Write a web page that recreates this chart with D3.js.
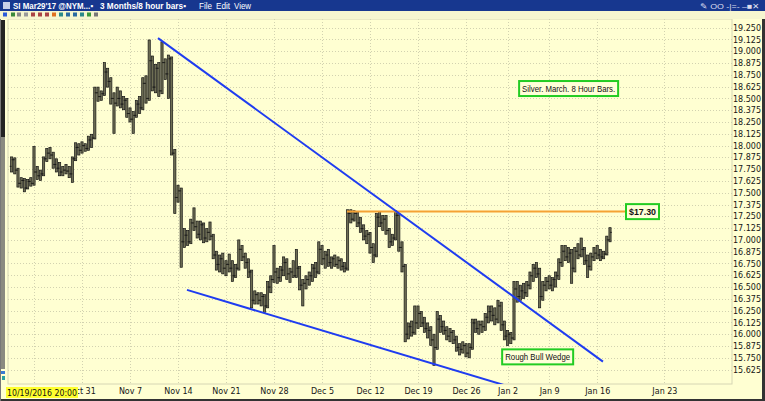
<!DOCTYPE html>
<html><head><meta charset="utf-8">
<script src="https://cdn.jsdelivr.net/npm/d3@7"></script>
<style>body{margin:0;background:#ffffd2;overflow:hidden} svg{display:block}</style>
</head><body><svg id="c" width="765" height="401"></svg>
<script>
// ---------- DATA ----------
const titleText = "SI Mar29'17 @NYM...\u25AA";
const periodText = "3 Months/8 hour bars\u25AA";
const menuItems = ["File", "Edit", "View"];
const cursorDate = "10/19/2016 20:00";

// week gridlines / labels (bar index where each week starts)
const weekLabels = ["", "Oct 31", "Nov 7", "Nov 14", "Nov 21", "Nov 28", "Dec 5", "Dec 12", "Dec 19", "Dec 26", "Jan 2", "Jan 9", "Jan 16", "Jan 23"];
const weekIndex  = [7, 22, 37, 52, 67, 82, 97, 112, 127, 142, 155, 168, 183, 204];

const priceTicks = [15.625, 15.75, 15.875, 16.0, 16.125, 16.25, 16.375, 16.5, 16.625, 16.75, 16.875, 17.0,
  17.125, 17.25, 17.375, 17.5, 17.625, 17.75, 17.875, 18.0, 18.125, 18.25, 18.375, 18.5, 18.625, 18.75,
  18.875, 19.0, 19.125, 19.25];

// 8-hour bars: [open, high, low, close]
const bars = [
[17.78,17.88,17.72,17.85],[17.85,17.87,17.70,17.74],[17.74,17.76,17.56,17.60],[17.60,17.66,17.55,17.63],
[17.63,17.65,17.51,17.55],[17.55,17.64,17.54,17.62],[17.62,17.66,17.57,17.60],[17.60,17.99,17.58,17.72],
[17.72,17.78,17.64,17.68],[17.68,17.74,17.63,17.70],[17.70,17.88,17.68,17.86],[17.86,17.97,17.83,17.92],
[17.92,17.98,17.86,17.90],[17.90,17.93,17.76,17.80],[17.80,17.86,17.72,17.76],[17.76,17.82,17.68,17.72],
[17.72,17.78,17.68,17.74],[17.74,17.80,17.70,17.73],[17.73,17.78,17.66,17.70],[17.70,17.88,17.61,17.86],
[17.86,18.03,17.84,17.98],[17.98,18.02,17.90,17.95],[17.95,18.04,17.92,18.00],[18.00,18.02,17.94,17.97],
[17.97,18.10,17.95,18.06],[18.06,18.12,17.98,18.08],[18.08,18.62,18.07,18.56],[18.56,18.62,18.47,18.52],
[18.52,18.58,18.48,18.55],[18.55,18.88,18.53,18.78],[18.78,18.82,18.62,18.68],[18.68,18.72,18.44,18.50],
[18.50,18.56,18.13,18.45],[18.45,18.62,18.42,18.50],[18.50,18.58,18.40,18.44],[18.44,18.52,18.38,18.48],
[18.48,18.50,18.30,18.34],[18.34,18.40,18.25,18.28],[18.28,18.36,18.13,18.32],[18.32,18.48,18.30,18.44],
[18.44,18.52,18.34,18.40],[18.40,18.72,18.38,18.66],[18.66,18.74,18.45,18.50],[18.50,19.12,18.48,18.90],
[18.90,18.95,18.58,18.62],[18.62,18.86,18.56,18.82],[18.82,18.88,18.52,18.58],[18.58,19.10,18.55,18.88],
[18.88,18.92,18.70,18.76],[18.76,18.96,18.50,18.92],[18.92,18.94,17.90,17.92],[17.92,17.96,17.28,17.45],
[17.45,17.58,17.40,17.52],[17.52,17.55,16.71,16.98],[16.98,17.12,16.92,17.05],[17.05,17.10,16.94,16.98],
[16.98,17.22,16.96,17.18],[17.18,17.34,17.10,17.14],[17.14,17.20,17.02,17.06],[17.06,17.20,17.00,17.16],
[17.16,17.18,16.97,17.02],[17.02,17.12,16.98,17.08],[17.08,17.19,17.00,17.04],[17.04,17.06,16.80,16.84],
[16.84,16.88,16.68,16.74],[16.74,16.84,16.66,16.80],[16.80,16.86,16.64,16.70],[16.70,16.78,16.62,16.74],
[16.74,16.85,16.66,16.70],[16.70,16.78,16.56,16.62],[16.62,16.74,16.60,16.70],[16.70,17.00,16.68,16.90],
[16.90,16.94,16.78,16.82],[16.82,16.86,16.70,16.76],[16.76,16.80,16.60,16.66],[16.66,16.68,16.28,16.36],
[16.36,16.46,16.32,16.42],[16.42,16.44,16.32,16.36],[16.36,16.44,16.30,16.40],[16.40,16.42,16.23,16.30],
[16.30,16.56,16.28,16.50],[16.50,16.62,16.44,16.58],[16.58,16.94,16.55,16.66],[16.66,16.70,16.54,16.60],
[16.60,16.72,16.56,16.68],[16.68,16.82,16.62,16.76],[16.76,16.80,16.58,16.64],[16.64,16.70,16.55,16.66],
[16.66,16.78,16.60,16.62],[16.62,16.90,16.60,16.70],[16.70,16.72,16.47,16.52],[16.52,16.58,16.30,16.54],
[16.54,16.62,16.48,16.58],[16.58,16.66,16.52,16.62],[16.62,16.74,16.56,16.70],[16.70,16.76,16.60,16.66],
[16.66,16.98,16.64,16.90],[16.90,16.94,16.74,16.80],[16.80,16.88,16.70,16.84],[16.84,16.90,16.72,16.76],
[16.76,16.82,16.70,16.80],[16.80,16.84,16.72,16.74],[16.74,16.82,16.70,16.78],[16.78,16.80,16.68,16.72],
[16.72,16.76,16.66,16.70],[16.70,17.32,16.68,17.28],[17.28,17.32,17.18,17.22],[17.22,17.31,17.20,17.28],
[17.28,17.30,17.14,17.18],[17.18,17.24,17.08,17.12],[17.12,17.16,17.00,17.04],[17.04,17.10,16.96,17.06],
[17.06,17.08,16.86,16.92],[16.92,16.96,16.76,16.84],[16.84,17.28,16.82,17.24],[17.24,17.30,17.14,17.18],
[17.18,17.26,17.10,17.22],[17.22,17.26,17.06,17.10],[17.10,17.12,16.92,16.98],[16.98,17.06,16.94,17.02],
[17.02,17.31,17.00,17.26],[17.26,17.28,16.88,16.92],[16.92,16.98,16.66,16.72],[16.72,16.74,15.92,16.00],
[16.00,16.12,15.95,16.08],[16.08,16.14,15.98,16.02],[16.02,16.30,16.00,16.12],[16.12,16.30,16.06,16.22],
[16.22,16.24,16.08,16.12],[16.12,16.18,16.02,16.06],[16.06,16.12,15.96,16.04],[16.04,16.08,15.88,15.94],
[15.94,16.00,15.67,15.86],[15.86,16.24,15.84,16.16],[16.16,16.20,16.02,16.08],[16.08,16.14,16.00,16.04],
[16.04,16.08,15.94,15.98],[15.98,16.06,15.92,16.02],[16.02,16.04,15.90,15.94],[15.94,15.98,15.82,15.86],
[15.86,15.90,15.78,15.84],[15.84,15.92,15.80,15.88],[15.88,15.90,15.76,15.80],[15.80,15.90,15.75,15.86],
[15.86,16.16,15.84,16.12],[16.12,16.16,16.02,16.06],[16.06,16.14,16.00,16.10],[16.10,16.14,16.02,16.08],
[16.08,16.22,16.04,16.18],[16.18,16.30,16.12,16.24],[16.24,16.30,16.14,16.20],[16.20,16.28,16.10,16.16],
[16.16,16.36,16.12,16.30],[16.30,16.34,16.04,16.10],[16.10,16.14,15.94,15.98],[15.98,16.04,15.88,16.00],
[16.00,16.02,15.90,15.96],[15.96,16.56,15.94,16.48],[16.48,16.56,16.34,16.40],[16.40,16.52,16.36,16.46],
[16.46,16.54,16.38,16.44],[16.44,16.56,16.40,16.52],[16.52,16.66,16.48,16.62],[16.62,16.74,16.56,16.70],
[16.70,16.76,16.60,16.64],[16.64,16.70,16.28,16.40],[16.40,16.56,16.36,16.52],[16.52,16.60,16.46,16.56],
[16.56,16.62,16.48,16.52],[16.52,16.60,16.46,16.58],[16.58,16.66,16.50,16.62],[16.62,16.80,16.58,16.76],
[16.76,16.94,16.72,16.88],[16.88,16.94,16.78,16.82],[16.82,16.92,16.76,16.86],[16.86,16.90,16.54,16.70],
[16.70,16.92,16.66,16.88],[16.88,16.96,16.80,16.84],[16.84,17.02,16.82,16.90],[16.90,16.92,16.74,16.78],
[16.78,16.84,16.60,16.72],[16.72,16.86,16.68,16.82],[16.82,16.92,16.78,16.86],[16.86,16.94,16.80,16.84],
[16.84,16.90,16.78,16.82],[16.82,16.88,16.80,16.85],[16.85,17.04,16.84,17.00],[17.00,17.13,16.98,17.08]
];

// drawn trendlines: [barIndex, price]
const wedgeUpper = [[45.75, 19.14], [184.8, 15.71]];
const wedgeLower = [[54.8, 16.47], [154.5, 15.455]];
const resistance = [[104.8, 17.30], [192.0, 17.30]];

const notes = [
  {text: "Silver. March. 8 Hour Bars.", at: [158.6, 18.605], w: 99, size: 8.2, bold: false},
  {text: "$17.30", at: [192.0, 17.30], w: 33, size: 8.8, bold: true},
  {text: "Rough Bull Wedge", at: [153.3, 15.76], w: 71, size: 8.2, bold: false}
];

// ---------- CHART ----------
const svg = d3.select("#c");
const W = 765, H = 401;
const plot = {left: 8, right: 732, top: 19, bottom: 384};
const x = d3.scaleLinear().domain([0, 204]).range([11.6, 664.4]);
const y = d3.scaleLinear().domain([15.625, 19.25]).range([369.6, 27.7]);
const FONT = "'DejaVu Sans', Verdana, sans-serif";
const AFONT = "'Liberation Sans', Arial, sans-serif";

svg.append("rect").attr("width", W).attr("height", H).attr("fill", "#ffffd2");

// plot frame
svg.append("rect").attr("x", plot.left).attr("y", plot.top)
  .attr("width", plot.right - plot.left).attr("height", plot.bottom - plot.top)
  .attr("fill", "#ffffd2").attr("stroke", "#d6d6b4").attr("stroke-width", 1);

// gridlines
const grid = svg.append("g");
grid.selectAll("line.h").data(priceTicks).join("line")
  .attr("x1", plot.left).attr("x2", plot.right)
  .attr("y1", d => Math.round(y(d)) + 0.5).attr("y2", d => Math.round(y(d)) + 0.5)
  .attr("stroke", "#d2d2b0").attr("stroke-dasharray", "1,2");
grid.selectAll("line.v").data(weekIndex).join("line")
  .attr("y1", plot.top).attr("y2", plot.bottom)
  .attr("x1", d => Math.round(x(d)) + 0.5).attr("x2", d => Math.round(x(d)) + 0.5)
  .attr("stroke", "#d2d2b0").attr("stroke-dasharray", "1,2");

// clip
svg.append("clipPath").attr("id", "pc").append("rect")
  .attr("x", plot.left).attr("y", plot.top).attr("width", plot.right - plot.left).attr("height", plot.bottom - plot.top);
const pg = svg.append("g").attr("clip-path", "url(#pc)");

// bars
const bw = 2.2;
const bg = pg.append("g");
bg.selectAll("rect").data(bars).join("rect")
  .attr("x", (d, i) => x(i) - bw / 2).attr("width", bw)
  .attr("y", d => y(d[1])).attr("height", d => Math.max(1, y(d[2]) - y(d[1])))
  .attr("fill", "#6e6e54").attr("stroke", "#141414").attr("stroke-width", 0.7);
bg.selectAll("line.o").data(bars).join("line")
  .attr("x1", (d, i) => x(i) - bw / 2 - 0.8).attr("x2", (d, i) => x(i))
  .attr("y1", d => y(d[0])).attr("y2", d => y(d[0]))
  .attr("stroke", "#141414").attr("stroke-width", 0.8);
bg.selectAll("line.c").data(bars).join("line")
  .attr("x1", (d, i) => x(i)).attr("x2", (d, i) => x(i) + bw / 2 + 0.8)
  .attr("y1", d => y(d[3])).attr("y2", d => y(d[3]))
  .attr("stroke", "#141414").attr("stroke-width", 0.8);

// trendlines
const line = d3.line().x(d => x(d[0])).y(d => y(d[1]));
pg.append("path").attr("d", line(resistance)).attr("fill", "none").attr("stroke", "#f5a234").attr("stroke-width", 2);
pg.append("path").attr("d", line(wedgeUpper)).attr("fill", "none").attr("stroke", "#1f3cf0").attr("stroke-width", 2);
pg.append("path").attr("d", line(wedgeLower)).attr("fill", "none").attr("stroke", "#1f3cf0").attr("stroke-width", 2);

// notes
const ng = svg.append("g");
notes.forEach(n => {
  const nx = x(n.at[0]), ny = y(n.at[1]);
  ng.append("rect").attr("x", nx).attr("y", ny - 7.5).attr("width", n.w).attr("height", 15)
    .attr("fill", "#ffffd8").attr("stroke", "#22cc22").attr("stroke-width", 2);
  ng.append("text").attr("x", nx + 3).attr("y", ny + 3)
    .attr("font-family", AFONT).attr("font-weight", n.bold ? "bold" : "normal")
    .attr("font-size", n.size).attr("fill", "#111")
    .attr("textLength", n.w - 6).attr("lengthAdjust", "spacingAndGlyphs").text(n.text);
});

// y axis (right)
const ya = svg.append("g").attr("transform", `translate(${plot.right},0)`)
  .call(d3.axisRight(y).tickValues(priceTicks).tickSize(0).tickPadding(1).tickFormat(d3.format(".3f")));
ya.select(".domain").remove();
ya.selectAll("text").attr("font-family", FONT).attr("font-size", 8).attr("fill", "#161616");

// x axis (bottom)
const xa = svg.append("g").attr("transform", `translate(0,${plot.bottom})`)
  .call(d3.axisBottom(x).tickValues(weekIndex).tickSize(0).tickPadding(4)
    .tickFormat((d, i) => weekLabels[i]));
xa.select(".domain").remove();
xa.selectAll("text").attr("font-family", FONT).attr("font-size", 8).attr("fill", "#161616");

// cursor date label (covers start of "Oct 31" as in the original)
svg.append("rect").attr("x", 6).attr("y", 387).attr("width", 72).attr("height", 11).attr("fill", "#ffff2e");
svg.append("text").attr("x", 7).attr("y", 396).attr("font-family", FONT).attr("font-size", 8)
  .attr("fill", "#111").attr("textLength", 70).attr("lengthAdjust", "spacingAndGlyphs").text(cursorDate);

// left scroller strip
svg.append("rect").attr("x", 1).attr("y", 20).attr("width", 4).attr("height", 117).attr("fill", "#222");
svg.append("rect").attr("x", 1).attr("y", 137).attr("width", 4).attr("height", 232).attr("fill", "#8a8a80");
svg.append("rect").attr("x", 1).attr("y", 371).attr("width", 4).attr("height", 3).attr("fill", "#3a7ad0");
svg.append("rect").attr("x", 2).attr("y", 376).attr("width", 3).attr("height", 4).attr("fill", "#2aa0a0");

// window border
svg.append("rect").attr("x", 762).attr("y", 0).attr("width", 3).attr("height", H).attr("fill", "#333");
svg.append("rect").attr("x", 0).attr("y", 399).attr("width", W).attr("height", 2).attr("fill", "#333");
svg.append("rect").attr("x", 0).attr("y", 0).attr("width", 1).attr("height", H).attr("fill", "#777");

// title bar
svg.append("rect").attr("x", 0).attr("y", 0).attr("width", W).attr("height", 11).attr("fill", "#17378f");
svg.append("rect").attr("x", 3).attr("y", 2).attr("width", 7).attr("height", 7).attr("fill", "#c8d0e8");
const tt = svg.append("g").attr("font-family", AFONT).attr("font-size", 8.5).attr("font-weight", "bold").attr("fill", "#fff");
tt.append("text").attr("x", 13).attr("y", 9).attr("textLength", 80).attr("lengthAdjust", "spacingAndGlyphs").text(titleText);
tt.append("text").attr("x", 100).attr("y", 9).attr("textLength", 86).attr("lengthAdjust", "spacingAndGlyphs").text(periodText);
const mx = [199, 216, 234], mw = [13, 14, 17];
menuItems.forEach((m, i) => tt.append("text").attr("x", mx[i]).attr("y", 9).attr("font-weight", "normal")
  .attr("textLength", mw[i]).attr("lengthAdjust", "spacingAndGlyphs").text(m));
svg.append("text").attr("x", 700).attr("y", 9).attr("font-family", AFONT).attr("font-size", 8).attr("fill", "#dde")
  .attr("textLength", 60).attr("lengthAdjust", "spacingAndGlyphs").text("\u270E OO -|=- \u2012\u25A0\u2715");

// toolbar row
svg.append("rect").attr("x", 0).attr("y", 11).attr("width", W).attr("height", 8).attr("fill", "#f6f6d0");
const icons = [["#2b5bd8",3],["#3a8a3a",11],["#888",17],["#999",24],["#a44",31],["#a44",38],["#a44",45],["#e07020",52],["#2a8a8a",59],["#2a6aa0",66],["#2a6aa0",73],["#2a8a8a",80],["#3a9a3a",87],["#777",94]];
svg.append("g").selectAll("rect").data(icons).join("rect")
  .attr("x", d => d[1]).attr("y", 12.5).attr("width", 4).attr("height", 4).attr("fill", d => d[0]);
</script></body></html>
